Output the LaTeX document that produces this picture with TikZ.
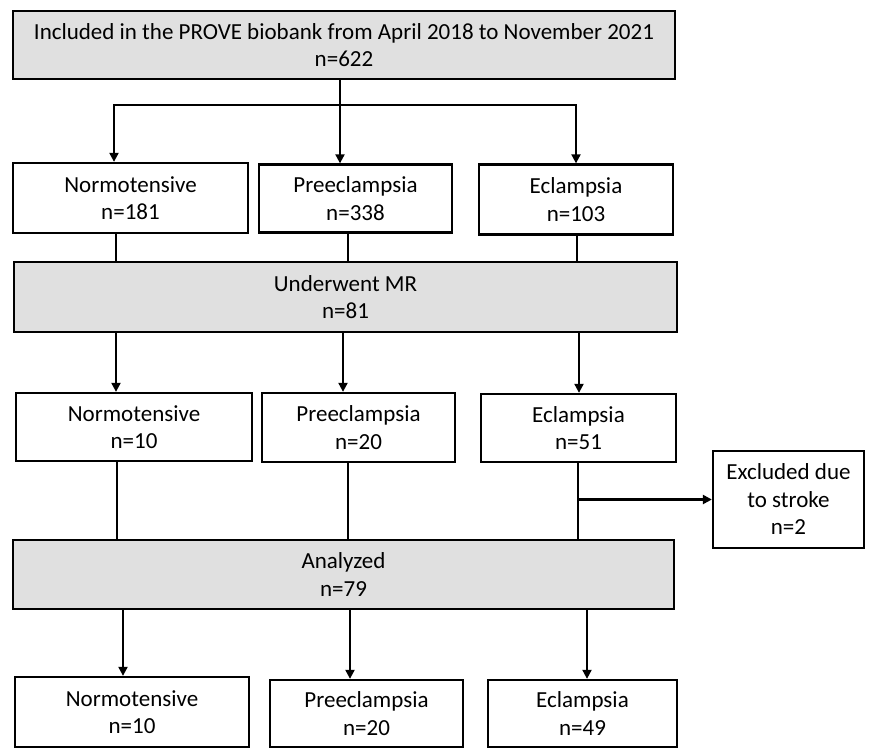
\documentclass[tikz,border=0pt]{standalone}
\usepackage{fontspec}
\setmainfont{Carlito}
\usepackage{xcolor}
\usetikzlibrary{arrows.meta}

\definecolor{boxgray}{HTML}{E0E0E0}
\tikzset{
  box/.style={draw, line width=2.3pt, align=center, inner sep=0pt,
    font=\fontsize{23}{27.5}\selectfont},
  graybox/.style={box, fill=boxgray},
  conn/.style={line width=2pt},
  arr/.style={conn, -{Triangle[width=9pt,length=9pt]}},
}

\begin{document}
\begin{tikzpicture}[x=1pt,y=-1pt]
    \useasboundingbox (0,0) rectangle (870,749);

    % top box and first split
    \node[graybox, minimum width=662pt, minimum height=68pt] (top) at (344,45)
        {Included in the PROVE biobank from April 2018 to November 2021\\n=622};

    \node[box, minimum width=235pt, minimum height=70pt] (norm1) at (130.5,198) {Normotensive\\n=181};
    \node[box, minimum width=193pt, minimum height=68pt] (pre1) at (355.5,198.5) {Preeclampsia\\n=338};
    \node[box, minimum width=194pt, minimum height=70pt] (ecl1) at (576,199.5) {Eclampsia\\n=103};

    \node[graybox, minimum width=663pt, minimum height=70pt] (mr) at (345.5,297) {Underwent MR\\n=81};

    \node[box, minimum width=236pt, minimum height=68pt] (norm2) at (134,427) {Normotensive\\n=10};
    \node[box, minimum width=193pt, minimum height=69pt] (pre2) at (358.5,427.5) {Preeclampsia\\n=20};
    \node[box, minimum width=195pt, minimum height=68pt] (ecl2) at (578.5,428) {Eclampsia\\n=51};

    \node[box, minimum width=151pt, minimum height=97pt] (excl) at (788.5,499.5) {Excluded due\\to stroke\\n=2};

    \node[graybox, minimum width=661pt, minimum height=69pt] (anal) at (343.5,574.5) {Analyzed\\n=79};

    \node[box, minimum width=234pt, minimum height=70pt] (norm3) at (132,712) {Normotensive\\n=10};
    \node[box, minimum width=193pt, minimum height=67pt] (pre3) at (366.5,713.5) {Preeclampsia\\n=20};
    \node[box, minimum width=189pt, minimum height=67pt] (ecl3) at (582.5,713.5) {Eclampsia\\n=49};

    % x positions of the vertical connectors
    \foreach \name/\xpos in {ca1/114, ca3/576, cb1/116, cb2/348, cb3/577,
                             cc1/116, cc2/343, cc3/579, cd1/117, cd2/348, cd3/578,
                             ce1/123, ce2/350, ce3/587}
        \coordinate (\name) at (\xpos,0);
    \coordinate (split) at (340,105);

    \draw[conn] (top.south -| split) -- (split);
    \draw[conn, line cap=rect] (ca1 |- split) -- (ca3 |- split);
    \draw[arr] (ca1 |- split) -- (ca1 |- norm1.north);
    \draw[arr] (split) -- (split |- pre1.north);
    \draw[arr] (ca3 |- split) -- (ca3 |- ecl1.north);

    \draw[conn] (cb1 |- norm1.south) -- (cb1 |- mr.north);
    \draw[conn] (cb2 |- pre1.south) -- (cb2 |- mr.north);
    \draw[conn] (cb3 |- ecl1.south) -- (cb3 |- mr.north);

    \draw[arr] (cc1 |- mr.south) -- (cc1 |- norm2.north);
    \draw[arr] (cc2 |- mr.south) -- (cc2 |- pre2.north);
    \draw[arr] (cc3 |- mr.south) -- (cc3 |- ecl2.north);

    \draw[conn] (cd1 |- norm2.south) -- (cd1 |- anal.north);
    \draw[conn] (cd2 |- pre2.south) -- (cd2 |- anal.north);
    \draw[conn] (cd3 |- ecl2.south) -- (cd3 |- anal.north);
    \draw[arr, line width=2.6pt] (cd3 |- excl.west) -- (excl.west);

    \draw[arr] (ce1 |- anal.south) -- (ce1 |- norm3.north);
    \draw[arr] (ce2 |- anal.south) -- (ce2 |- pre3.north);
    \draw[arr] (ce3 |- anal.south) -- (ce3 |- ecl3.north);
\end{tikzpicture}
\end{document}
